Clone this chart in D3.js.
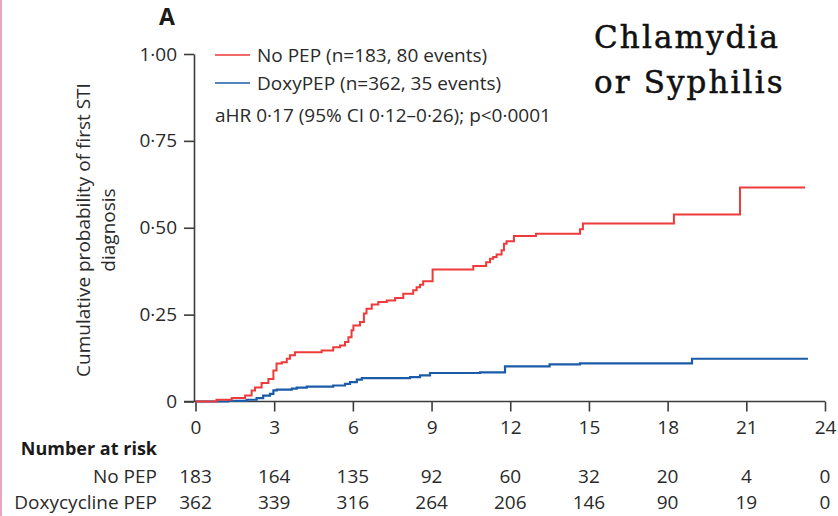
<!DOCTYPE html>
<html>
<head>
<meta charset="utf-8">
<script src="https://cdn.jsdelivr.net/npm/d3@7"></script>
<style>
  body { margin: 0; background: #fff; }
  svg { display: block; font-family: "Open Sans", sans-serif; }
</style>
</head>
<body>
<div id="chart"></div>
<script>
// Kaplan-Meier steps (months, cumulative probability)
var noPepTime = [0, 0.8, 1.38, 1.89, 2.14, 2.27, 2.52, 2.78, 2.97, 3.09, 3.29, 3.48, 3.6, 3.79, 4.81, 5.25, 5.51, 5.7, 5.83, 5.95, 6.02, 6.27, 6.42, 6.52, 6.72, 6.97, 7.29, 7.61, 7.92, 8.3, 8.43, 8.56, 8.68, 9.04, 10.59, 11.08, 11.23, 11.35, 11.48, 11.67, 11.76, 11.86, 12.14, 12.98, 14.66, 14.77, 18.24, 20.76, 23.24];
var noPepCum  = [0, 0.005, 0.010, 0.017, 0.032, 0.040, 0.053, 0.065, 0.089, 0.109, 0.113, 0.123, 0.133, 0.142, 0.147, 0.156, 0.161, 0.171, 0.185, 0.205, 0.219, 0.229, 0.253, 0.267, 0.279, 0.286, 0.291, 0.298, 0.310, 0.320, 0.329, 0.336, 0.346, 0.380, 0.390, 0.401, 0.411, 0.416, 0.423, 0.435, 0.454, 0.461, 0.476, 0.483, 0.496, 0.512, 0.538, 0.616, 0.616];

var doxyTime = [0, 1.24, 1.95, 2.33, 2.58, 2.84, 2.97, 3.1, 3.67, 3.86, 4.24, 5.25, 5.7, 5.89, 6.15, 6.34, 8.18, 8.56, 8.94, 10.85, 11.8, 13.5, 14.66, 18.93, 23.35];
var doxyCum  = [0, 0.002, 0.005, 0.010, 0.017, 0.022, 0.032, 0.034, 0.037, 0.040, 0.043, 0.046, 0.051, 0.056, 0.063, 0.067, 0.070, 0.075, 0.082, 0.084, 0.101, 0.107, 0.110, 0.123, 0.123];

// number at risk table
var riskTimes = [0, 3, 6, 9, 12, 15, 18, 21, 24];
var riskNoPep = [183, 164, 135, 92, 60, 32, 20, 4, 0];
var riskDoxy  = [362, 339, 316, 264, 206, 146, 90, 19, 0];

var xTicks = [0, 3, 6, 9, 12, 15, 18, 21, 24];
var yTicks = [0, 0.25, 0.5, 0.75, 1];

var legendLabels = ["No PEP (n=183, 80 events)", "DoxyPEP (n=362, 35 events)"];
var statLabel = "aHR 0\u00b717 (95% CI 0\u00b712\u20130\u00b726); p<0\u00b70001";

var red = "#ee3a3a", blue = "#1b5ba7", axisCol = "#3c3c3c", textCol = "#2a2a2a";
var fs = "19px";

var width = 838, height = 516;

var svg = d3.select("#chart").append("svg")
    .attr("width", width)
    .attr("height", height);

// pink edge along the left side of the slide
svg.append("rect")
    .attr("x", 0).attr("y", 0)
    .attr("width", 2).attr("height", height)
    .attr("fill", "#e9a6c1");

var x = d3.scaleLinear().domain([0, 24]).range([195.5, 825]);
var y = d3.scaleLinear().domain([0, 1]).range([401.5, 54]);

function dotNum(d) {
    if (d === 0) return "0";
    return d3.format(".2f")(d).replace(".", "\u00b7");
}

// y axis
var gy = svg.append("g")
    .attr("transform", "translate(194,0)")
    .call(d3.axisLeft(y).tickValues(yTicks).tickFormat(dotNum).tickSize(10).tickSizeOuter(0).tickPadding(7));

// x axis
var gx = svg.append("g")
    .attr("transform", "translate(0," + y(0) + ")")
    .call(d3.axisBottom(x).tickValues(xTicks).tickSize(10).tickSizeOuter(0).tickPadding(9));

[gx, gy].forEach(function(g) {
    g.select(".domain").attr("stroke", axisCol).attr("stroke-width", 1.6);
    g.selectAll(".tick line").attr("stroke", axisCol).attr("stroke-width", 1.6);
    g.selectAll(".tick text").attr("fill", textCol).style("font-size", fs).style("font-family", "'Open Sans', sans-serif");
});
gx.select(".domain").attr("d", "M" + 184 + ",0H" + x(24));

// curves
var line = d3.line()
    .x(function(d) { return x(d[0]); })
    .y(function(d) { return y(d[1]); })
    .curve(d3.curveStepAfter);

svg.append("path")
    .datum(d3.zip(doxyTime, doxyCum))
    .attr("d", line)
    .attr("fill", "none")
    .attr("stroke", blue)
    .attr("stroke-width", 2.2);

svg.append("path")
    .datum(d3.zip(noPepTime, noPepCum))
    .attr("d", line)
    .attr("fill", "none")
    .attr("stroke", red)
    .attr("stroke-width", 2);

// legend
var legend = svg.append("g");
legendLabels.forEach(function(lab, i) {
    var ly = 55 + i * 28;
    legend.append("line")
        .attr("x1", 215).attr("x2", 250)
        .attr("y1", ly).attr("y2", ly)
        .attr("stroke", i === 0 ? red : blue)
        .attr("stroke-width", 1.6);
    legend.append("text")
        .attr("x", 257).attr("y", ly + 7)
        .attr("fill", textCol)
        .style("font-size", fs)
        .text(lab);
});
legend.append("text")
    .attr("x", 215).attr("y", 122)
    .attr("fill", textCol)
    .style("font-size", fs)
    .text(statLabel);

// panel letter
svg.append("text")
    .attr("x", 159).attr("y", 25)
    .attr("fill", "#1a1a1a")
    .style("font-size", "23px")
    .style("font-weight", "bold")
    .text("A");

// y axis title
var yTitle = svg.append("text")
    .attr("transform", "translate(90,230) rotate(-90)")
    .attr("text-anchor", "middle")
    .attr("fill", textCol)
    .style("font-size", fs);
yTitle.append("tspan").attr("x", 0).attr("y", 0).text("Cumulative probability of first STI");
yTitle.append("tspan").attr("x", 0).attr("y", 25).text("diagnosis");

// slide title
var title = svg.append("text")
    .attr("fill", "#111")
    .attr("stroke", "#111")
    .attr("stroke-width", 0.5)
    .style("font-family", "'DejaVu Serif', serif")
    .style("font-size", "31px")
    .style("letter-spacing", "2.1px");
title.append("tspan").attr("x", 594).attr("y", 48).text("Chlamydia");
title.append("tspan").attr("x", 594).attr("y", 93).text("or Syphilis");

// number at risk
svg.append("text")
    .attr("x", 157).attr("y", 455)
    .attr("text-anchor", "end")
    .attr("fill", "#1a1a1a")
    .style("font-size", "18px")
    .style("font-weight", "bold")
    .text("Number at risk");

var rows = [
    { name: "No PEP", vals: riskNoPep, y: 483 },
    { name: "Doxycycline PEP", vals: riskDoxy, y: 509 }
];
rows.forEach(function(r) {
    svg.append("text")
        .attr("x", 157).attr("y", r.y)
        .attr("text-anchor", "end")
        .attr("fill", textCol)
        .style("font-size", fs)
        .text(r.name);
    svg.selectAll(null)
        .data(r.vals)
        .enter()
        .append("text")
        .attr("x", function(d, i) { return x(riskTimes[i]); })
        .attr("y", r.y)
        .attr("text-anchor", "middle")
        .attr("fill", textCol)
        .style("font-size", fs)
        .text(function(d) { return d; });
});
</script>
</body>
</html>
